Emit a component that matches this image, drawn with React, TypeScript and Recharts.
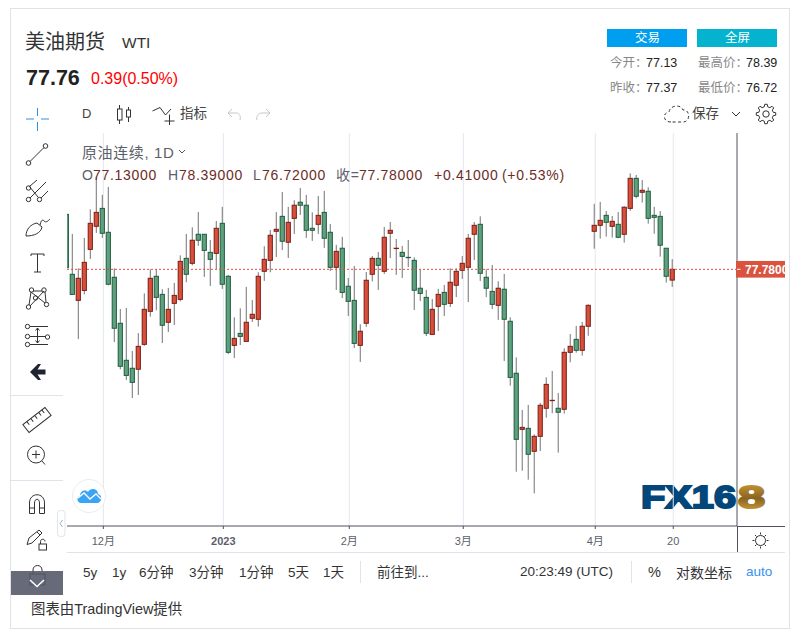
import React from "react";
import { ComposedChart, Bar, XAxis, YAxis, CartesianGrid, ReferenceLine } from "recharts";

const opens = [81.09,77.48,75.91,76.51,78.98,80.37,81.45,80.01,77.30,74.53,72.30,71.82,71.76,73.26,75.25,77.36,76.27,74.59,75.73,75.97,78.44,78.14,79.89,79.89,78.80,78.74,80.55,77.36,73.20,73.92,73.44,74.83,74.77,77.66,78.32,80.07,80.97,79.41,80.85,81.82,81.64,80.25,80.49,81.21,80.01,77.90,79.05,76.76,75.91,73.20,74.53,77.48,78.44,77.66,79.95,79.03,78.80,78.50,78.32,76.64,76.09,73.86,75.55,76.39,75.73,76.82,77.72,77.90,79.89,80.49,77.30,76.45,75.61,76.58,74.65,71.52,68.14,68.20,66.82,67.72,69.41,69.87,69.41,69.35,72.78,73.56,72.90,74.35,80.07,80.43,81.03,80.37,80.49,79.89,81.45,83.26,82.42,82.48,81.03,80.97,79.05,77.13];
const closes = [77.88,76.27,77.24,78.20,80.55,81.21,79.95,76.88,74.23,71.94,71.39,70.97,73.14,75.37,77.24,76.09,74.41,75.37,76.21,78.26,77.48,79.53,79.53,78.92,78.38,80.25,76.88,72.78,73.62,73.74,74.59,75.07,77.36,78.38,79.83,80.19,79.47,80.61,81.64,81.64,80.13,80.13,81.03,79.65,77.90,78.86,76.39,75.85,73.32,74.05,77.12,78.44,78.02,79.71,80.13,79.05,78.56,78.48,76.52,76.33,73.93,75.37,76.27,75.67,77.00,77.66,78.14,79.65,80.43,77.54,76.64,75.67,76.64,74.77,71.27,67.54,68.26,66.64,67.72,69.59,70.85,69.89,69.17,72.78,73.14,72.90,74.35,75.61,80.43,80.73,80.61,80.67,79.71,81.52,83.26,82.18,82.54,80.85,80.91,79.23,77.36,77.78];
const highs = [81.09,79.91,77.84,79.67,81.39,83.36,82.26,82.74,77.84,75.39,75.45,72.86,73.94,76.33,77.78,77.78,76.58,76.66,76.96,78.62,79.91,80.31,81.23,79.89,79.55,80.69,81.54,77.44,74.89,75.43,76.72,75.93,77.60,79.17,80.15,81.23,82.44,81.54,81.94,82.68,82.26,81.21,82.20,82.50,80.51,79.25,79.73,77.26,77.98,74.47,77.62,78.58,78.82,80.33,80.63,79.61,79.19,79.55,78.50,77.78,76.54,75.99,76.60,76.84,77.84,77.84,78.58,79.91,80.63,80.97,77.78,78.04,77.06,77.50,74.89,72.48,69.31,69.61,67.84,69.73,71.27,71.66,70.33,73.02,73.88,74.37,74.61,75.67,81.72,81.84,81.29,80.99,81.23,81.58,83.56,83.46,83.16,82.72,81.54,81.29,79.05,78.39];
const lows = [77.88,76.27,73.58,76.27,78.40,79.97,79.67,76.82,73.40,71.76,71.11,70.03,70.21,73.18,74.93,75.31,73.34,74.01,74.43,75.85,77.00,78.02,79.19,77.32,76.78,77.78,76.60,72.68,72.44,73.22,73.40,74.61,74.33,77.08,77.60,78.52,78.94,78.46,79.91,81.05,79.67,79.49,79.91,79.07,77.68,76.54,76.05,74.97,73.04,72.20,74.31,77.06,76.54,77.50,78.46,77.44,77.26,77.92,75.33,75.87,73.76,73.86,74.07,74.97,75.51,76.11,77.20,75.81,78.34,77.08,76.11,75.39,74.73,72.26,70.77,65.59,65.65,65.11,64.29,66.84,68.84,69.11,66.74,69.09,72.18,72.76,72.58,73.78,79.02,79.63,79.75,79.69,79.65,79.39,81.31,82.06,81.80,80.53,79.92,78.54,76.98,76.72];
const tickPositions = [6.09, 26.09, 47.09, 66.09, 88.09, 101.09];
const tickLabels = ["12月", "2023", "2月", "3月", "4月", "20"];
const lastClose = 77.78;
const priceDomain = [62.32, 85.99];

const candles = opens.map((open, i) => ({ i, open, close: closes[i], high: highs[i], low: lows[i] }));

const SANS = '"Liberation Sans","Noto Sans CJK SC",sans-serif';

function Candle(props: any) {
  const { x, y, width, height, payload } = props;
  const cx = x + width / 2;
  const k = height / (payload.high - payload.low);
  const top = y + (payload.high - Math.max(payload.open, payload.close)) * k;
  const bot = y + (payload.high - Math.min(payload.open, payload.close)) * k;
  const up = payload.close > payload.open;
  return (
    <g>
      <line x1={cx} x2={cx} y1={y} y2={y + height} stroke="#737373" strokeWidth={1} />
      <rect x={cx - 2.1} y={top} width={4.2} height={Math.max(bot - top, 0.3)}
        fill={up ? "#d94f3a" : "#5fa17f"} stroke={up ? "#7a1d16" : "#1d5c3e"} strokeWidth={1} />
    </g>
  );
}

function TimeTick(props: any) {
  const { x, payload } = props;
  const idx = tickPositions.indexOf(payload.value);
  const bold = tickLabels[idx] === "2023";
  return (
    <text x={x} y={545} textAnchor="middle" fontSize={11} fontWeight={bold ? 700 : 400}
      fontFamily={SANS} fill="#5d606b">{tickLabels[idx]}</text>
  );
}

function PriceTick(props: any) {
  const { y } = props;
  return (
    <svg x={736} y={y - 8.5} width={49} height={17} style={{ overflow: "hidden" }}>
      <rect x={0} y={0} width={49} height={17} fill="#d9533f" />
      <line x1={1} x2={4.5} y1={8.5} y2={8.5} stroke="#fff" strokeWidth={1} />
      <text x={9} y={12.7} fontSize={12} fontWeight={700} fontFamily={SANS} fill="#fff">77.7800</text>
    </svg>
  );
}

function T({ x, y, s = 13, c = "#333", b = false, ls = 0, children }: any) {
  return (
    <span style={{
      position: "absolute", left: x, top: y - 12, height: 24, lineHeight: "24px", fontSize: s, color: c,
      fontWeight: b ? 700 : 400, letterSpacing: ls, whiteSpace: "pre", fontFamily: SANS,
    }}>{children}</span>
  );
}

function Box({ x, y, w, h, c }: any) {
  return <div style={{ position: "absolute", left: x, top: y, width: w, height: h, background: c }} />;
}

function gearPath(cx: number, cy: number, rOut: number, rIn: number, teeth: number) {
  const pts: string[] = [];
  const step = (Math.PI * 2) / teeth;
  for (let t = 0; t < teeth; t++) {
    const a = t * step;
    const offs = [[-0.3, rIn], [-0.16, rOut], [0.16, rOut], [0.3, rIn]];
    offs.forEach(([o, r]) => {
      const th = a + o * step;
      pts.push(`${(cx + r * Math.cos(th)).toFixed(2)} ${(cy + r * Math.sin(th)).toFixed(2)}`);
    });
  }
  return "M" + pts.join(" L") + " Z";
}

function Watermark() {
  return (
    <svg width={800} height={632} style={{ position: "absolute", left: 0, top: 0 }}>
      <defs>
        <linearGradient id="gold" x1="0" y1="0" x2="0" y2="1">
          <stop offset="0" stopColor="#d8a83e" />
          <stop offset="0.55" stopColor="#8a6420" />
          <stop offset="1" stopColor="#d9ab45" />
        </linearGradient>
      </defs>
      <text x={641} y={507.5} fontSize={32} fontWeight={700} fontFamily={SANS} fill="#03467a" stroke="#03467a" strokeWidth={2}
        textLength={95} lengthAdjust="spacingAndGlyphs">FX16</text>
      <text x={738} y={507.5} fontSize={32} fontWeight={700} fontFamily={SANS} fill="url(#gold)" stroke="url(#gold)" strokeWidth={2}
        textLength={27} lengthAdjust="spacingAndGlyphs">8</text>
    </svg>
  );
}

function Icons() {
  const st = { fill: "none", stroke: "#333", strokeWidth: 1 };
  return (
    <svg width={800} height={632} style={{ position: "absolute", left: 0, top: 0, pointerEvents: "none" }}>
      <g stroke="#2f8fe5" strokeWidth={1}>
        <line x1={26} x2={34} y1={119} y2={119} /><line x1={41} x2={49} y1={119} y2={119} />
        <line x1={37.5} x2={37.5} y1={108} y2={116} /><line x1={37.5} x2={37.5} y1={122} y2={131} />
      </g>
      <g {...st}><circle cx={28.5} cy={163} r={2.3} /><circle cx={45.5} cy={146} r={2.3} /><line x1={30} y1={161.5} x2={44} y2={147.5} /></g>
      <g {...st}>
        <circle cx={28.5} cy={188} r={2.2} /><circle cx={28.5} cy={199.5} r={2.2} /><circle cx={39.5} cy={199.5} r={2.2} />
        <line x1={30} y1={186} x2={37} y2={180} /><line x1={30} y1={198} x2={46} y2={182} /><line x1={41} y1={198} x2={48} y2={191} />
        <line x1={29} y1={186} x2={38} y2={197} />
      </g>
      <g {...st}>
        <path d="M26 236 C26 229 31 224 37 223 L42 227 C41 233 34 236 26 236Z" />
        <path d="M40 225 C41 220 43 219 44 221 C46 223 48 221 50 219" />
      </g>
      <g {...st}><path d="M31 256 L31 254 L44 254 L44 256 M37.5 254 L37.5 272 M34 272 L41 272" /></g>
      <g {...st}>
        <circle cx={28.5} cy={307} r={2.2} /><circle cx={31.5} cy={290} r={2.2} /><circle cx={44} cy={290} r={2.2} /><circle cx={46.5} cy={304.5} r={2.2} /><circle cx={35.5} cy={298} r={2.2} />
        <path d="M29 305 L31 292 L45 303 M33 291 L42 291 M30 306 L44 291 M45 292 L46 302" />
      </g>
      <g {...st}>
        <line x1={30} x2={48} y1={326.5} y2={326.5} /><line x1={30} x2={45} y1={336.5} y2={336.5} /><line x1={30} x2={48} y1={344.5} y2={344.5} />
        <circle cx={27.5} cy={326.5} r={2.2} /><circle cx={27.5} cy={336.5} r={2.2} /><circle cx={27.5} cy={344.5} r={2.2} /><circle cx={47.5} cy={337} r={2.2} />
        <path d="M37.5 328 L37.5 343 M35.5 330.5 L37.5 328 L39.5 330.5 M35.5 340.5 L37.5 343 L39.5 340.5" />
      </g>
      <path d="M30 372 L38 364 L41 364 L37.5 369.5 L45.5 369.5 L45.5 374.5 L37.5 374.5 L41 380 L38 380 Z" fill="#1f2430" />
      <g {...st} transform="rotate(-38 37 420)">
        <rect x={23} y={415} width={28} height={10} />
        <path d="M28 415 L28 419 M33 415 L33 419 M38 415 L38 419 M43 415 L43 419 M47 415 L47 419" />
      </g>
      <g {...st}><circle cx={36} cy={454.5} r={8.5} /><path d="M32 454.5 L40 454.5 M36 450.5 L36 458.5 M42 461 L45 464.5" /></g>
      <g {...st}><path d="M29.5 513.5 L29.5 503 C29.5 492 44.5 492 44.5 503 L44.5 513.5 L39.5 513.5 L39.5 503 C39.5 498 34.5 498 34.5 503 L34.5 513.5 Z M29.5 508 L34.5 508 M39.5 508 L44.5 508" /></g>
      <g {...st}>
        <path d="M27 544.5 L29 538 L39 530 L42 533 L32 543 Z M37 532 L40 535" />
        <rect x={39} y={544} width={7.5} height={6} />
        <path d="M40.5 544 L40.5 541.5 C40.5 538.5 45 538.5 45 541.5" />
      </g>
      <g {...st}><rect x={30} y={574} width={15} height={11} /><path d="M33 574 L33 570 C33 564 42 564 42 570 L42 571" /></g>
      <rect x={11} y={571} width={52} height={24} fill="rgba(82,85,102,0.88)" />
      <path d="M30 580 L37 586.5 L44 580" fill="none" stroke="#fff" strokeWidth={1.6} />
      <rect x={57.5} y={510.5} width={7.5} height={26} rx={3} fill="#fff" stroke="#e0e3eb" />
      <path d="M62.5 520 L60 523.5 L62.5 527" fill="none" stroke="#9cb3c9" />
      <circle cx={89} cy={496} r={16.5} fill="#fff" stroke="#eaedf0" />
      <path d="M81 503 C77 503 76 497 80 496 C80 491 85 489 88 492 C91 487 98 489 98 494 C103 495 102 503 97 503 Z" fill="#3ba5f5" />
      <path d="M78 498 L84 493 L90 499 L96 494 L101 499" fill="none" stroke="#fff" strokeWidth={1.3} />
      <g {...st}>
        <line x1={119.5} x2={119.5} y1={105} y2={124} /><rect x={117.5} y={109} width={4.5} height={11} fill="#fff" />
        <line x1={128.5} x2={128.5} y1={107} y2={122} /><rect x={126.5} y={110} width={4} height={7} fill="#fff" />
        <path d="M152.5 111 L160 107.5 L165.5 115 L171 109 M169.5 114.5 L169.5 125 M164.5 121 L174.5 121" />
      </g>
      <g fill="none" stroke="#c4c7cf" strokeWidth={1}>
        <path d="M228 113 L232 109 M228 113 L232 117 M228 113 L236 113 C240 113 241 117 240 120" />
        <path d="M270 113 L266 109 M270 113 L266 117 M270 113 L262 113 C258 113 256 117 257 120" />
      </g>
      <path d="M671 122 C663 122 662 113 669 112 C670 105 681 104 683 110 C690 109 691 122 683 122 Z" fill="none" stroke="#333" strokeDasharray="3 2.5" />
      <path d="M732 112 L736 116 L740 112" {...st} />
      <g {...st}>
        <circle cx={766} cy={114} r={3.2} />
        <path d={gearPath(766, 114, 9.8, 7.4, 8)} />
      </g>
      <path d="M179 150 L182 153 L185 150" fill="none" stroke="#555" />
      <g {...st}>
        <circle cx={760.5} cy={540.5} r={5} />
        <path d="M760.5 532.5 V534.5 M760.5 546.5 V548.5 M752.5 540.5 H754.5 M766.5 540.5 H768.5 M755 535 L756.5 536.5 M764.5 544.5 L766 546 M755 546 L756.5 544.5 M764.5 536.5 L766 535" />
      </g>
    </svg>
  );
}

export default function App() {
  return (
    <div style={{ position: "absolute", left: 0, top: 0, width: 800, height: 632, overflow: "hidden", background: "#fff" }}>
      <Box x={10} y={8} w={780} h={1} c="#dfe2e8" />
      <Box x={10} y={8} w={1} h={621} c="#dfe2e8" />
      <Box x={789} y={8} w={1} h={621} c="#dfe2e8" />
      <Box x={10} y={628} w={780} h={1} c="#dfe2e8" />
      <Box x={11} y={395} w={52} h={1} c="#e0e3eb" />
      <Box x={11} y={480} w={52} h={1} c="#e0e3eb" />

      <T x={25} y={42} s={20} c="#333">美油期货</T>
      <T x={122} y={43} s={15.5} c="#333">WTI</T>
      <T x={26} y={78} s={21.5} c="#222" b>77.76</T>
      <T x={91} y={79} s={16} c="#f00">0.39(0.50%)</T>

      <Box x={607} y={29} w={80} h={18} c="#009eee" />
      <Box x={697} y={29} w={80} h={18} c="#05b3cf" />
      <T x={635} y={38} s={12.5} c="#fff">交易</T>
      <T x={725} y={38} s={12.5} c="#fff">全屏</T>
      <T x={610} y={63} s={12.5} c="#888">今开：</T>
      <T x={646} y={63} s={12.5} c="#222">77.13</T>
      <T x={698} y={63} s={12.5} c="#888">最高价：</T>
      <T x={746} y={63} s={12.5} c="#222">78.39</T>
      <T x={610} y={88} s={12.5} c="#888">昨收：</T>
      <T x={646} y={88} s={12.5} c="#222">77.37</T>
      <T x={698} y={88} s={12.5} c="#888">最低价：</T>
      <T x={746} y={88} s={12.5} c="#222">76.72</T>

      <T x={82} y={114} s={13} c="#444">D</T>
      <T x={180} y={114} s={13.5} c="#444">指标</T>
      <T x={692} y={114} s={13.5} c="#444">保存</T>

      <Watermark />

      <div style={{ position: "absolute", left: 0, top: 0 }}>
        <ComposedChart width={800} height={632} data={candles} margin={{ top: 133, right: 0, bottom: 76, left: 67 }} barSize={5}>
          <CartesianGrid vertical horizontal={false} stroke="#e3e7ee" verticalValues={tickPositions} />
          <XAxis type="number" dataKey="i" domain={[0.034, 111.717]} allowDataOverflow ticks={tickPositions} height={30}
            tick={<TimeTick />} tickSize={3} stroke="#50535e" interval={0} />
          <YAxis orientation="right" width={63} domain={priceDomain} allowDataOverflow ticks={[lastClose]} tick={<PriceTick />}
            tickLine={false} tickSize={0} tickMargin={0} stroke="#50535e" interval={0} />
          <ReferenceLine y={lastClose} stroke="#d9533f" strokeDasharray="2 2" />
          <Bar dataKey={(d: any) => [d.low, d.high]} shape={<Candle />} isAnimationActive={false} />
        </ComposedChart>
      </div>

      <Box x={737} y={526} w={48} h={1} c="#50535e" />
      <Box x={736.5} y={526} w={1} h={26} c="#50535e" />
      <Box x={67} y={552} w={718} h={1} c="#e0e3eb" />
      <Box x={360} y={561} w={1} h={22} c="#e0e3eb" />
      <Box x={631} y={561} w={1} h={22} c="#e0e3eb" />

      <T x={82} y={153} s={15} c="#5d606b" ls={0.6}>原油连续, 1D</T>
      <T x={82} y={175} s={14} c="#5d606b" ls={0.7}>O</T>
      <T x={93} y={175} s={14} c="#6e2c25" ls={0.7}>77.13000</T>
      <T x={168} y={175} s={14} c="#5d606b" ls={0.7}>H</T>
      <T x={179} y={175} s={14} c="#6e2c25" ls={0.7}>78.39000</T>
      <T x={253} y={175} s={14} c="#5d606b" ls={0.7}>L</T>
      <T x={262} y={175} s={14} c="#6e2c25" ls={0.7}>76.72000</T>
      <T x={336} y={175} s={14} c="#5d606b" ls={0.7}>收=</T>
      <T x={359} y={175} s={14} c="#6e2c25" ls={0.7}>77.78000</T>
      <T x={434} y={175} s={14} c="#6e2c25" ls={0.7}>+0.41000</T>
      <T x={502} y={175} s={14} c="#6e2c25" ls={0.7}>(+0.53%)</T>

      <T x={83} y={573} s={13.5}>5y</T>
      <T x={112} y={573} s={13.5}>1y</T>
      <T x={139} y={573} s={13.5}>6分钟</T>
      <T x={189} y={573} s={13.5}>3分钟</T>
      <T x={239} y={573} s={13.5}>1分钟</T>
      <T x={288} y={573} s={13.5}>5天</T>
      <T x={323} y={573} s={13.5}>1天</T>
      <T x={377} y={573} s={13.5}>前往到...</T>
      <T x={520} y={572} s={13.5}>20:23:49 (UTC)</T>
      <T x={648} y={572} s={14.5}>%</T>
      <T x={676} y={573} s={14}>对数坐标</T>
      <T x={746} y={572} s={13.5} c="#3a90f0">auto</T>
      <T x={31} y={609} s={14.4} c="#333">图表由TradingView提供</T>

      <Icons />
    </div>
  );
}
